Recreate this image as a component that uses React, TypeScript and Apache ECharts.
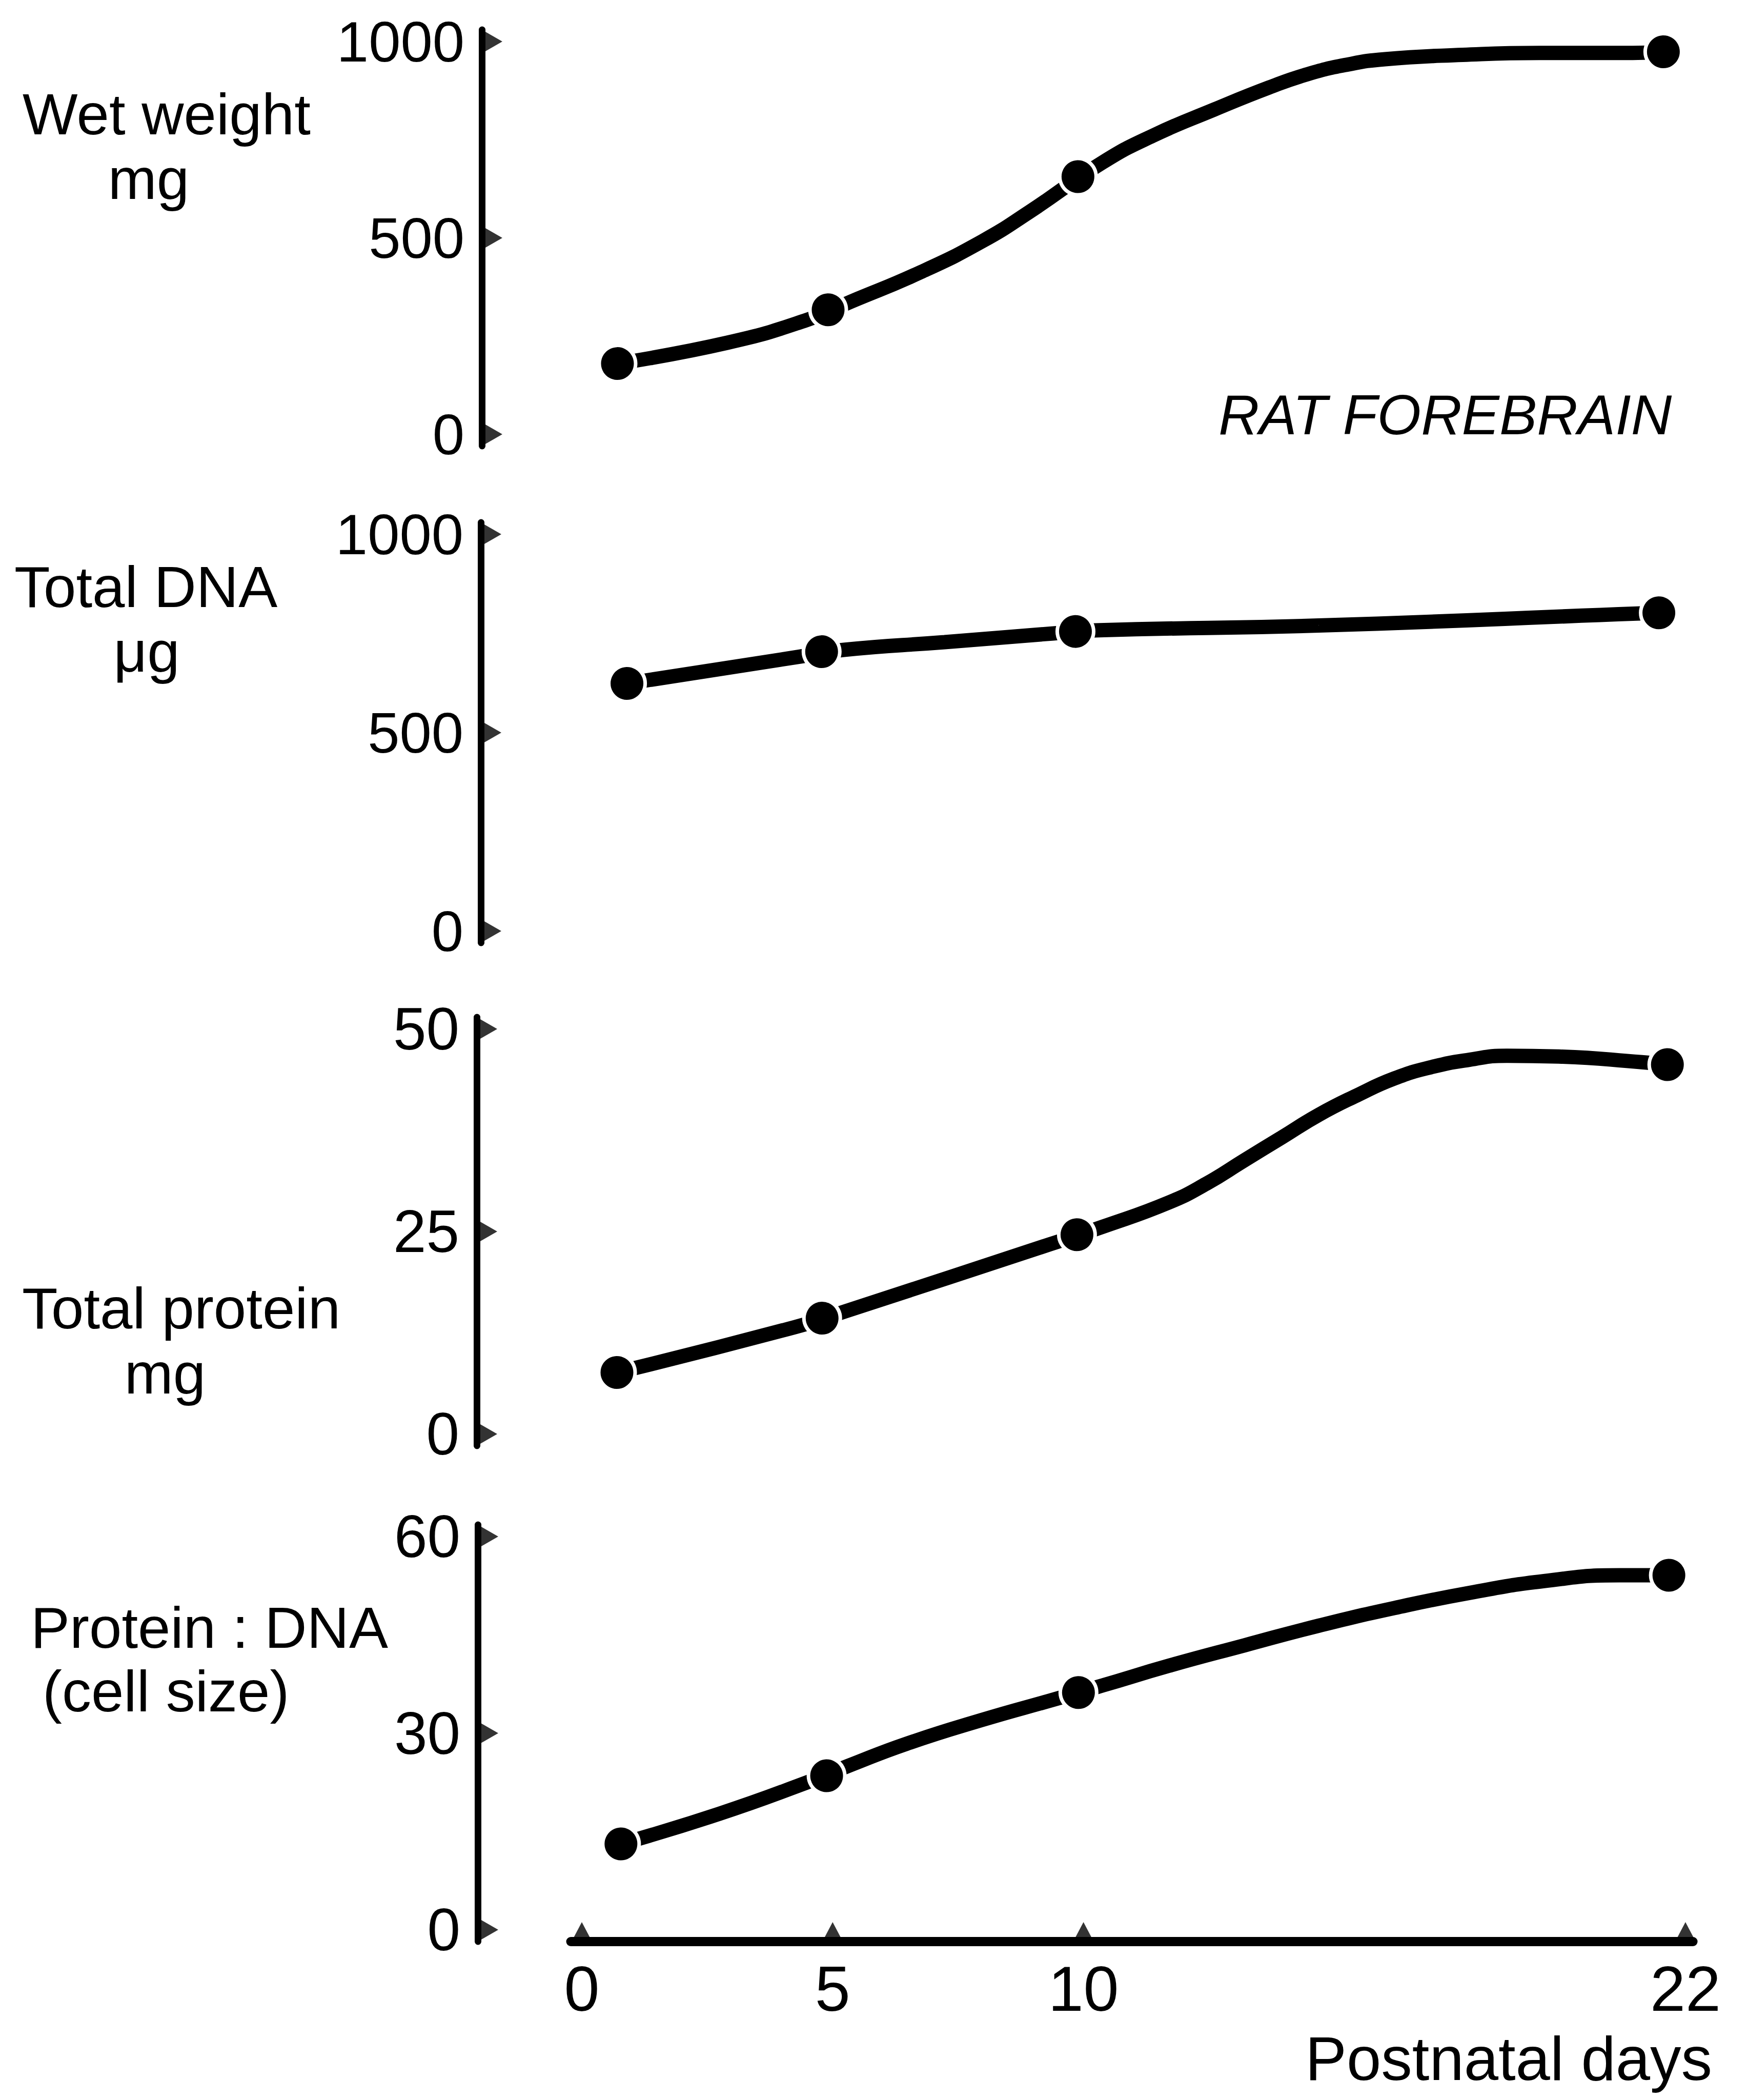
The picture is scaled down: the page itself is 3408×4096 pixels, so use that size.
import React, { useEffect, useRef } from "react";
import * as echarts from "echarts";

// ---------------- data ----------------
const xTicks = [0, 5, 10, 22];

const wetWeightTicks = [0, 500, 1000];
const dnaTicks = [0, 500, 1000];
const proteinTicks = [0, 25, 50];
const ratioTicks = [0, 30, 60];

// measured points (postnatal day, value)
const wetWeightDays = [0.71, 4.91, 9.89, 21.56];
const wetWeightMg = [180, 317, 656, 974];

const dnaDays = [0.9, 4.78, 9.84, 21.47];
const dnaUg = [624, 704, 755, 802];

const proteinDays = [0.7, 4.79, 9.87, 21.64];
const proteinMg = [7.6, 14.3, 24.6, 45.6];

const ratioDays = [0.78, 4.88, 9.9, 21.67];
const ratioValues = [13.1, 23.5, 36.2, 54.1];

// hand-drawn curves: [day, value]
const wetWeightCurve = [
  [0.71, 180], [2.9, 233], [4.44, 289], [5.37, 338], [6.76, 413],
  [7.99, 492], [8.92, 566], [10.38, 692], [11.38, 760], [12.61, 827], [13.7, 883],
  [14.47, 917], [15.25, 941], [16.01, 955], [17.56, 966], [19.1, 971], [20.95, 971],
  [21.56, 974],
];
const dnaCurve = [
  [0.9, 624], [4.32, 691], [5.25, 709], [7.23, 728], [9.4, 750],
  [10.32, 758], [14.69, 770], [21.02, 800], [21.47, 802],
];
const proteinCurve = [
  [0.7, 7.6], [4.25, 13.2], [5.33, 15.3], [9.32, 23.4], [10.39, 25.6],
  [11.71, 28.6], [12.45, 30.9], [13.21, 33.8], [13.95, 36.6], [14.69, 39.4],
  [15.45, 41.8], [16.2, 43.9], [16.94, 45.3], [17.69, 46.2], [18.44, 46.7],
  [19.48, 46.6], [21.13, 45.9], [21.64, 45.6],
];
const ratioCurve = [
  [0.78, 13.1], [2.74, 17.7], [4.46, 22.4], [5.31, 25.0], [6.48, 28.4],
  [7.97, 32.0], [9.44, 35.2], [10.39, 37.3], [11.71, 40.3], [13.21, 43.4],
  [14.69, 46.4], [16.2, 49.1], [17.69, 51.4], [19.18, 53.2], [20.68, 54.1],
  [21.67, 54.1],
];

// ---------------- layout / style ----------------
const W = 3408;
const H = 4096;
const FONT = '"Liberation Sans", Arial, Helvetica, sans-serif';

const X0_PX = 1135; // pixel of day 0
const PX_PER_DAY = 97.86;
const X_MIN = -0.22;
const X_MAX = 22.15;
const GRID_LEFT = X0_PX + X_MIN * PX_PER_DAY;
const GRID_WIDTH = (X_MAX - X_MIN) * PX_PER_DAY;
const EXT = 23; // axis line extension beyond outer ticks (px)

const LINE_W = 28;
const DOT = 64;
const GAP = 7;
const Y_AXIS_W = 13;
const X_AXIS_W = 18;

const panels = [
  { ticks: wetWeightTicks, topPx: 81, botPx: 847, axisX: 940, labelSize: 112, days: wetWeightDays, values: wetWeightMg, curve: wetWeightCurve },
  { ticks: dnaTicks, topPx: 1042, botPx: 1816, axisX: 938, labelSize: 112, days: dnaDays, values: dnaUg, curve: dnaCurve },
  { ticks: proteinTicks, topPx: 2007, botPx: 2797, axisX: 930, labelSize: 116, days: proteinDays, values: proteinMg, curve: proteinCurve },
  { ticks: ratioTicks, topPx: 2997, botPx: 3764, axisX: 932, labelSize: 116, days: ratioDays, values: ratioValues, curve: ratioCurve },
];

const RIGHT_TRI = "path://M0,0L1,1L0,2Z";
const UP_TRI = "path://M0,2L1,0L2,2Z";

function buildOption() {
  const grid: any[] = [];
  const xAxis: any[] = [];
  const yAxis: any[] = [];
  const series: any[] = [];

  panels.forEach((p, i) => {
    const tMin = p.ticks[0];
    const tMax = p.ticks[p.ticks.length - 1];
    const pxPerUnit = (p.botPx - p.topPx) / (tMax - tMin);
    const yMin = tMin - EXT / pxPerUnit;
    const yMax = tMax + EXT / pxPerUnit;
    const isLast = i === panels.length - 1;

    grid.push({
      left: GRID_LEFT,
      width: GRID_WIDTH,
      top: p.topPx - EXT,
      height: p.botPx - p.topPx + 2 * EXT,
      containLabel: false,
    });

    xAxis.push({
      type: "value",
      gridIndex: i,
      min: X_MIN,
      max: X_MAX,
      show: isLast,
      axisLine: { show: true, onZero: false, lineStyle: { color: "#000", width: X_AXIS_W } },
      axisTick: { show: false },
      splitLine: { show: false },
      axisLabel: {
        customValues: xTicks,
        formatter: (v: number) => String(v),
        color: "#000",
        fontFamily: FONT,
        fontSize: 124,
        margin: 30,
      },
    });

    yAxis.push({
      type: "value",
      gridIndex: i,
      min: yMin,
      max: yMax,
      offset: GRID_LEFT - p.axisX,
      axisLine: { show: true, onZero: false, lineStyle: { color: "#000", width: Y_AXIS_W } },
      axisTick: { show: false },
      splitLine: { show: false },
      axisLabel: {
        customValues: p.ticks,
        formatter: (v: number) => String(v),
        color: "#000",
        fontFamily: FONT,
        fontSize: p.labelSize,
        margin: 34,
      },
    });

    series.push({
      type: "line",
      xAxisIndex: i,
      yAxisIndex: i,
      data: p.curve,
      smooth: 0.5,
      showSymbol: false,
      symbol: "none",
      lineStyle: { color: "#000", width: LINE_W, cap: "butt" },
      z: 2,
      silent: true,
    });

    series.push({
      type: "scatter",
      xAxisIndex: i,
      yAxisIndex: i,
      data: p.days.map((d, k) => [d, p.values[k]]),
      symbol: "circle",
      symbolSize: DOT + GAP,
      itemStyle: { color: "#000", borderColor: "#fff", borderWidth: GAP, opacity: 1 },
      z: 3,
      silent: true,
    });

    series.push({
      type: "scatter",
      xAxisIndex: i,
      yAxisIndex: i,
      data: p.ticks.map((t) => [X_MIN, t]),
      symbol: RIGHT_TRI,
      symbolSize: [40, 46],
      symbolOffset: [p.axisX + 20 - GRID_LEFT, 0],
      itemStyle: { color: "#000" },
      clip: false,
      z: 4,
      silent: true,
    });

    if (isLast) {
      series.push({
        type: "scatter",
        xAxisIndex: i,
        yAxisIndex: i,
        data: xTicks.map((t) => [t, yMin]),
        symbol: UP_TRI,
        symbolSize: [40, 38],
        symbolOffset: [0, -19],
        itemStyle: { color: "#000" },
        clip: false,
        z: 4,
        silent: true,
      });
    }
  });

  const txt = (text: string, x: number, y: number, size: number, align: string, italic = false) => ({
    type: "text",
    x,
    y,
    silent: true,
    style: {
      text,
      fill: "#000",
      font: `${italic ? "italic " : ""}${size}px ${FONT}`,
      textAlign: align,
      textVerticalAlign: "middle",
    },
  });

  const graphic = [
    txt("Wet weight", 44, 222, 114, "left"),
    txt("mg", 290, 348, 114, "center"),
    txt("Total DNA", 28, 1144, 114, "left"),
    txt("μg", 286, 1270, 114, "center"),
    txt("Total protein", 43, 2551, 114, "left"),
    txt("mg", 322, 2678, 114, "center"),
    txt("Protein : DNA", 60, 3174, 114, "left"),
    txt("(cell size)", 83, 3298, 114, "left"),
    txt("RAT FOREBRAIN", 2377, 808, 110, "left", true),
    txt("Postnatal days", 3340, 4015, 121, "right"),
  ];

  return {
    animation: false,
    backgroundColor: "#fff",
    grid,
    xAxis,
    yAxis,
    series,
    graphic,
  };
}

export default function App() {
  const ref = useRef<HTMLDivElement>(null);
  useEffect(() => {
    if (!ref.current) return;
    const chart = echarts.init(ref.current, undefined, { renderer: "svg", width: W, height: H });
    chart.setOption(buildOption() as any);
    return () => chart.dispose();
  }, []);
  return (
    <div
      ref={ref}
      style={{ position: "absolute", left: 0, top: 0, width: W, height: H, background: "#fff" }}
    />
  );
}
